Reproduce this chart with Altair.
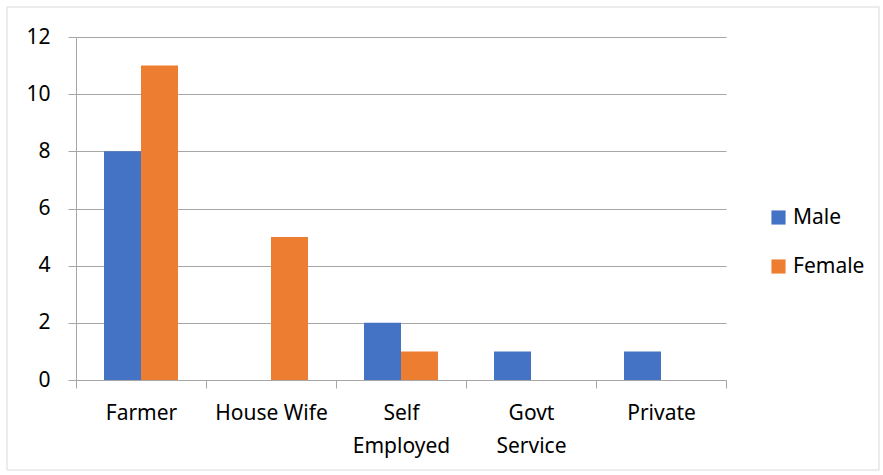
import altair as alt
import pandas as pd

categories = ["Farmer", "House Wife", "Self Employed", "Govt Service", "Private"]
male = [8, 0, 2, 1, 1]
female = [11, 5, 1, 0, 0]
series = ["Male", "Female"]
colors = ["#4472C4", "#ED7D31"]
y_ticks = [0, 2, 4, 6, 8, 10, 12]

rows = []
for c, m, f in zip(categories, male, female):
    rows.append({"Category": c, "Gender": "Male", "Value": m})
    rows.append({"Category": c, "Gender": "Female", "Value": f})
df = pd.DataFrame(rows)

FONT = "Noto Sans"
FS = 21
label_expr = ("datum.label == 'Self Employed' ? ['Self', 'Employed'] : "
              "datum.label == 'Govt Service' ? ['Govt', 'Service'] : datum.label")

bars = alt.Chart(df).mark_bar().encode(
    x=alt.X("Category:N", sort=categories, title=None,
            scale=alt.Scale(paddingInner=0, paddingOuter=0),
            axis=alt.Axis(labelAngle=0, labelExpr=label_expr, tickBand="extent",
                          labelFontSize=FS, labelFont=FONT, labelColor="#000000",
                          labelPadding=14, labelLineHeight=33,
                          domainColor="#a6a6a6", tickColor="#a6a6a6", tickSize=8,
                          grid=False)),
    xOffset=alt.XOffset("Gender:N", sort=series,
                        scale=alt.Scale(paddingInner=0, paddingOuter=0.757)),
    y=alt.Y("Value:Q", title=None,
            scale=alt.Scale(domain=[0, 12], nice=False),
            axis=alt.Axis(values=y_ticks, labelFontSize=FS, labelFont=FONT,
                          labelColor="#000000", labelPadding=18,
                          domainColor="#a6a6a6", tickColor="#a6a6a6", tickSize=8,
                          gridColor="#a6a6a6", gridWidth=1)),
    color=alt.Color("Gender:N", sort=series,
                    scale=alt.Scale(domain=series, range=colors),
                    legend=alt.Legend(title=None, orient="none", legendX=692, legendY=170,
                                      symbolType="square", symbolSize=200,
                                      symbolStrokeWidth=0, labelFontSize=FS,
                                      labelFont=FONT, labelColor="#000000",
                                      rowPadding=27, labelOffset=4, padding=0)),
)

border = alt.Chart(alt.Data(values=[{}])).mark_rect(
    fill=None, stroke="#d9d9d9", strokeWidth=1
).encode(
    x=alt.value(-69), x2=alt.value(803), y=alt.value(-30), y2=alt.value(433)
)

chart = alt.layer(border, bars).properties(
    width=650, height=343,
    autosize=alt.AutoSizeParams(type="none"),
    padding={"left": 76, "top": 37, "right": 157, "bottom": 95},
    background="white",
).configure_view(stroke=None)

chart.save("out.html", embed_options={"renderer": "svg", "actions": False})
